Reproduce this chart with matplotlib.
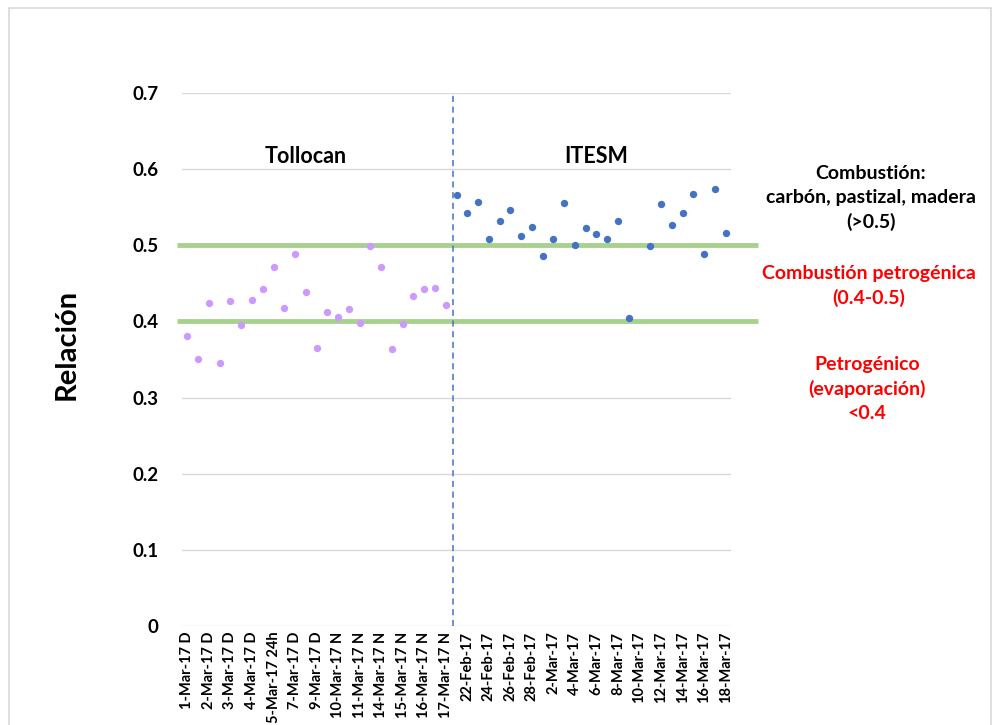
import matplotlib.pyplot as plt
import matplotlib.patches as mpatches
import numpy as np

plt.rcParams["font.family"] = ["Lato", "DejaVu Sans"]
plt.rcParams["font.weight"] = "bold"

# Tollocan samples (categories shown every other on the axis)
tollocan_labels = [
    "1-Mar-17 D", "1-Mar-17 N", "2-Mar-17 D", "2-Mar-17 N", "3-Mar-17 D",
    "3-Mar-17 N", "4-Mar-17 D", "4-Mar-17 N", "5-Mar-17 24h", "6-Mar-17 24h",
    "7-Mar-17 D", "7-Mar-17 N", "9-Mar-17 D", "10-Mar-17 D", "10-Mar-17 N",
    "11-Mar-17 D", "11-Mar-17 N", "13-Mar-17 N", "14-Mar-17 N", "15-Mar-17 D",
    "15-Mar-17 N", "16-Mar-17 D", "16-Mar-17 N", "17-Mar-17 D", "17-Mar-17 N",
]
tollocan_values = [
    0.381, 0.351, 0.424, 0.345, 0.427, 0.395, 0.428, 0.442, 0.471, 0.418,
    0.488, 0.438, 0.365, 0.413, 0.406, 0.416, 0.398, 0.499, 0.471, 0.364,
    0.397, 0.433, 0.443, 0.444, 0.422,
]

# ITESM samples (daily)
itesm_labels = [
    "21-Feb-17", "22-Feb-17", "23-Feb-17", "24-Feb-17", "25-Feb-17",
    "26-Feb-17", "27-Feb-17", "28-Feb-17", "1-Mar-17", "2-Mar-17",
    "3-Mar-17", "4-Mar-17", "5-Mar-17", "6-Mar-17", "7-Mar-17",
    "8-Mar-17", "9-Mar-17", "10-Mar-17", "11-Mar-17", "12-Mar-17",
    "13-Mar-17", "14-Mar-17", "15-Mar-17", "16-Mar-17", "17-Mar-17",
    "18-Mar-17",
]
itesm_values = [
    0.566, 0.543, 0.557, 0.508, 0.532, 0.547, 0.512, 0.524, 0.486, 0.508,
    0.556, 0.501, 0.523, 0.515, 0.508, 0.532, 0.404, np.nan, 0.499, 0.554,
    0.527, 0.543, 0.568, 0.488, 0.574, 0.516,
]

thresholds = [0.4, 0.5]

categories = tollocan_labels + itesm_labels
n_toll = len(tollocan_labels)
x_toll = np.arange(n_toll)
x_itesm = np.arange(n_toll, len(categories))

fig = plt.figure(figsize=(9.92, 7.25), dpi=100)
ax = fig.add_axes([0.1835, 0.1366, 0.5534, 0.7351])

# outer chart border
fig.patches.append(mpatches.Rectangle((9 / 992, -0.01), 982 / 992, 1 - 8 / 725 + 0.01,
                                      transform=fig.transFigure, fill=False,
                                      edgecolor="#D9D9D9", lw=1.2))

ax.set_ylim(0, 0.7)
ax.set_xlim(-0.5, len(categories) - 0.5)
ax.set_yticks(np.arange(0, 0.71, 0.1))
ax.set_yticklabels(["0", "0.1", "0.2", "0.3", "0.4", "0.5", "0.6", "0.7"],
                   fontweight="bold", fontsize=13.5)
ax.grid(axis="y", color="#D9D9D9", lw=1)
ax.set_axisbelow(True)
for s in ax.spines.values():
    s.set_visible(False)
ax.tick_params(axis="both", length=0)
ax.tick_params(axis="y", pad=17)
ax.set_xticks(np.arange(len(categories))[::2])
ax.set_xticklabels(categories[::2], rotation=90, fontsize=10.5, fontweight="bold")
ax.tick_params(axis="x", pad=4)

for t in thresholds:
    ax.plot([-0.93, 53.0], [t, t], color="#A9D18E", lw=3.5, clip_on=False,
            solid_capstyle="butt", zorder=2)

ax.plot([24.65, 24.65], [0, 0.7], color="#4472C4", lw=1.1, ls=(0, (4, 3)), zorder=2)

ax.scatter(x_toll, tollocan_values, s=28, color="#CC99FF", zorder=3, linewidths=0)
ax.scatter(x_itesm, itesm_values, s=28, color="#4472C4", zorder=3, linewidths=0)

ax.text(11.0, 0.616, "Tollocan", ha="center", va="center", fontsize=15.5, fontweight="bold")
ax.text(38.0, 0.616, "ITESM", ha="center", va="center", fontsize=15.5, fontweight="bold")

ax.set_ylabel("Relación", fontsize=21, fontweight="bold")
ax.yaxis.set_label_coords(-0.187, 0.529)

fig.text(871 / 992, 1 - 198 / 725, "Combustión:\ncarbón, pastizal, madera\n(>0.5)",
         ha="center", va="center", fontsize=14, color="black", linespacing=1.5,
         fontweight="bold")
fig.text(869 / 992, 1 - 286 / 725, "Combustión petrogénica\n(0.4-0.5)",
         ha="center", va="center", fontsize=14, color="red", linespacing=1.5,
         fontweight="bold")
fig.text(867 / 992, 1 - 389 / 725, "Petrogénico\n(evaporación)\n<0.4",
         ha="center", va="center", fontsize=14, color="red", linespacing=1.5,
         fontweight="bold")

fig.savefig("out.png", dpi=100)
